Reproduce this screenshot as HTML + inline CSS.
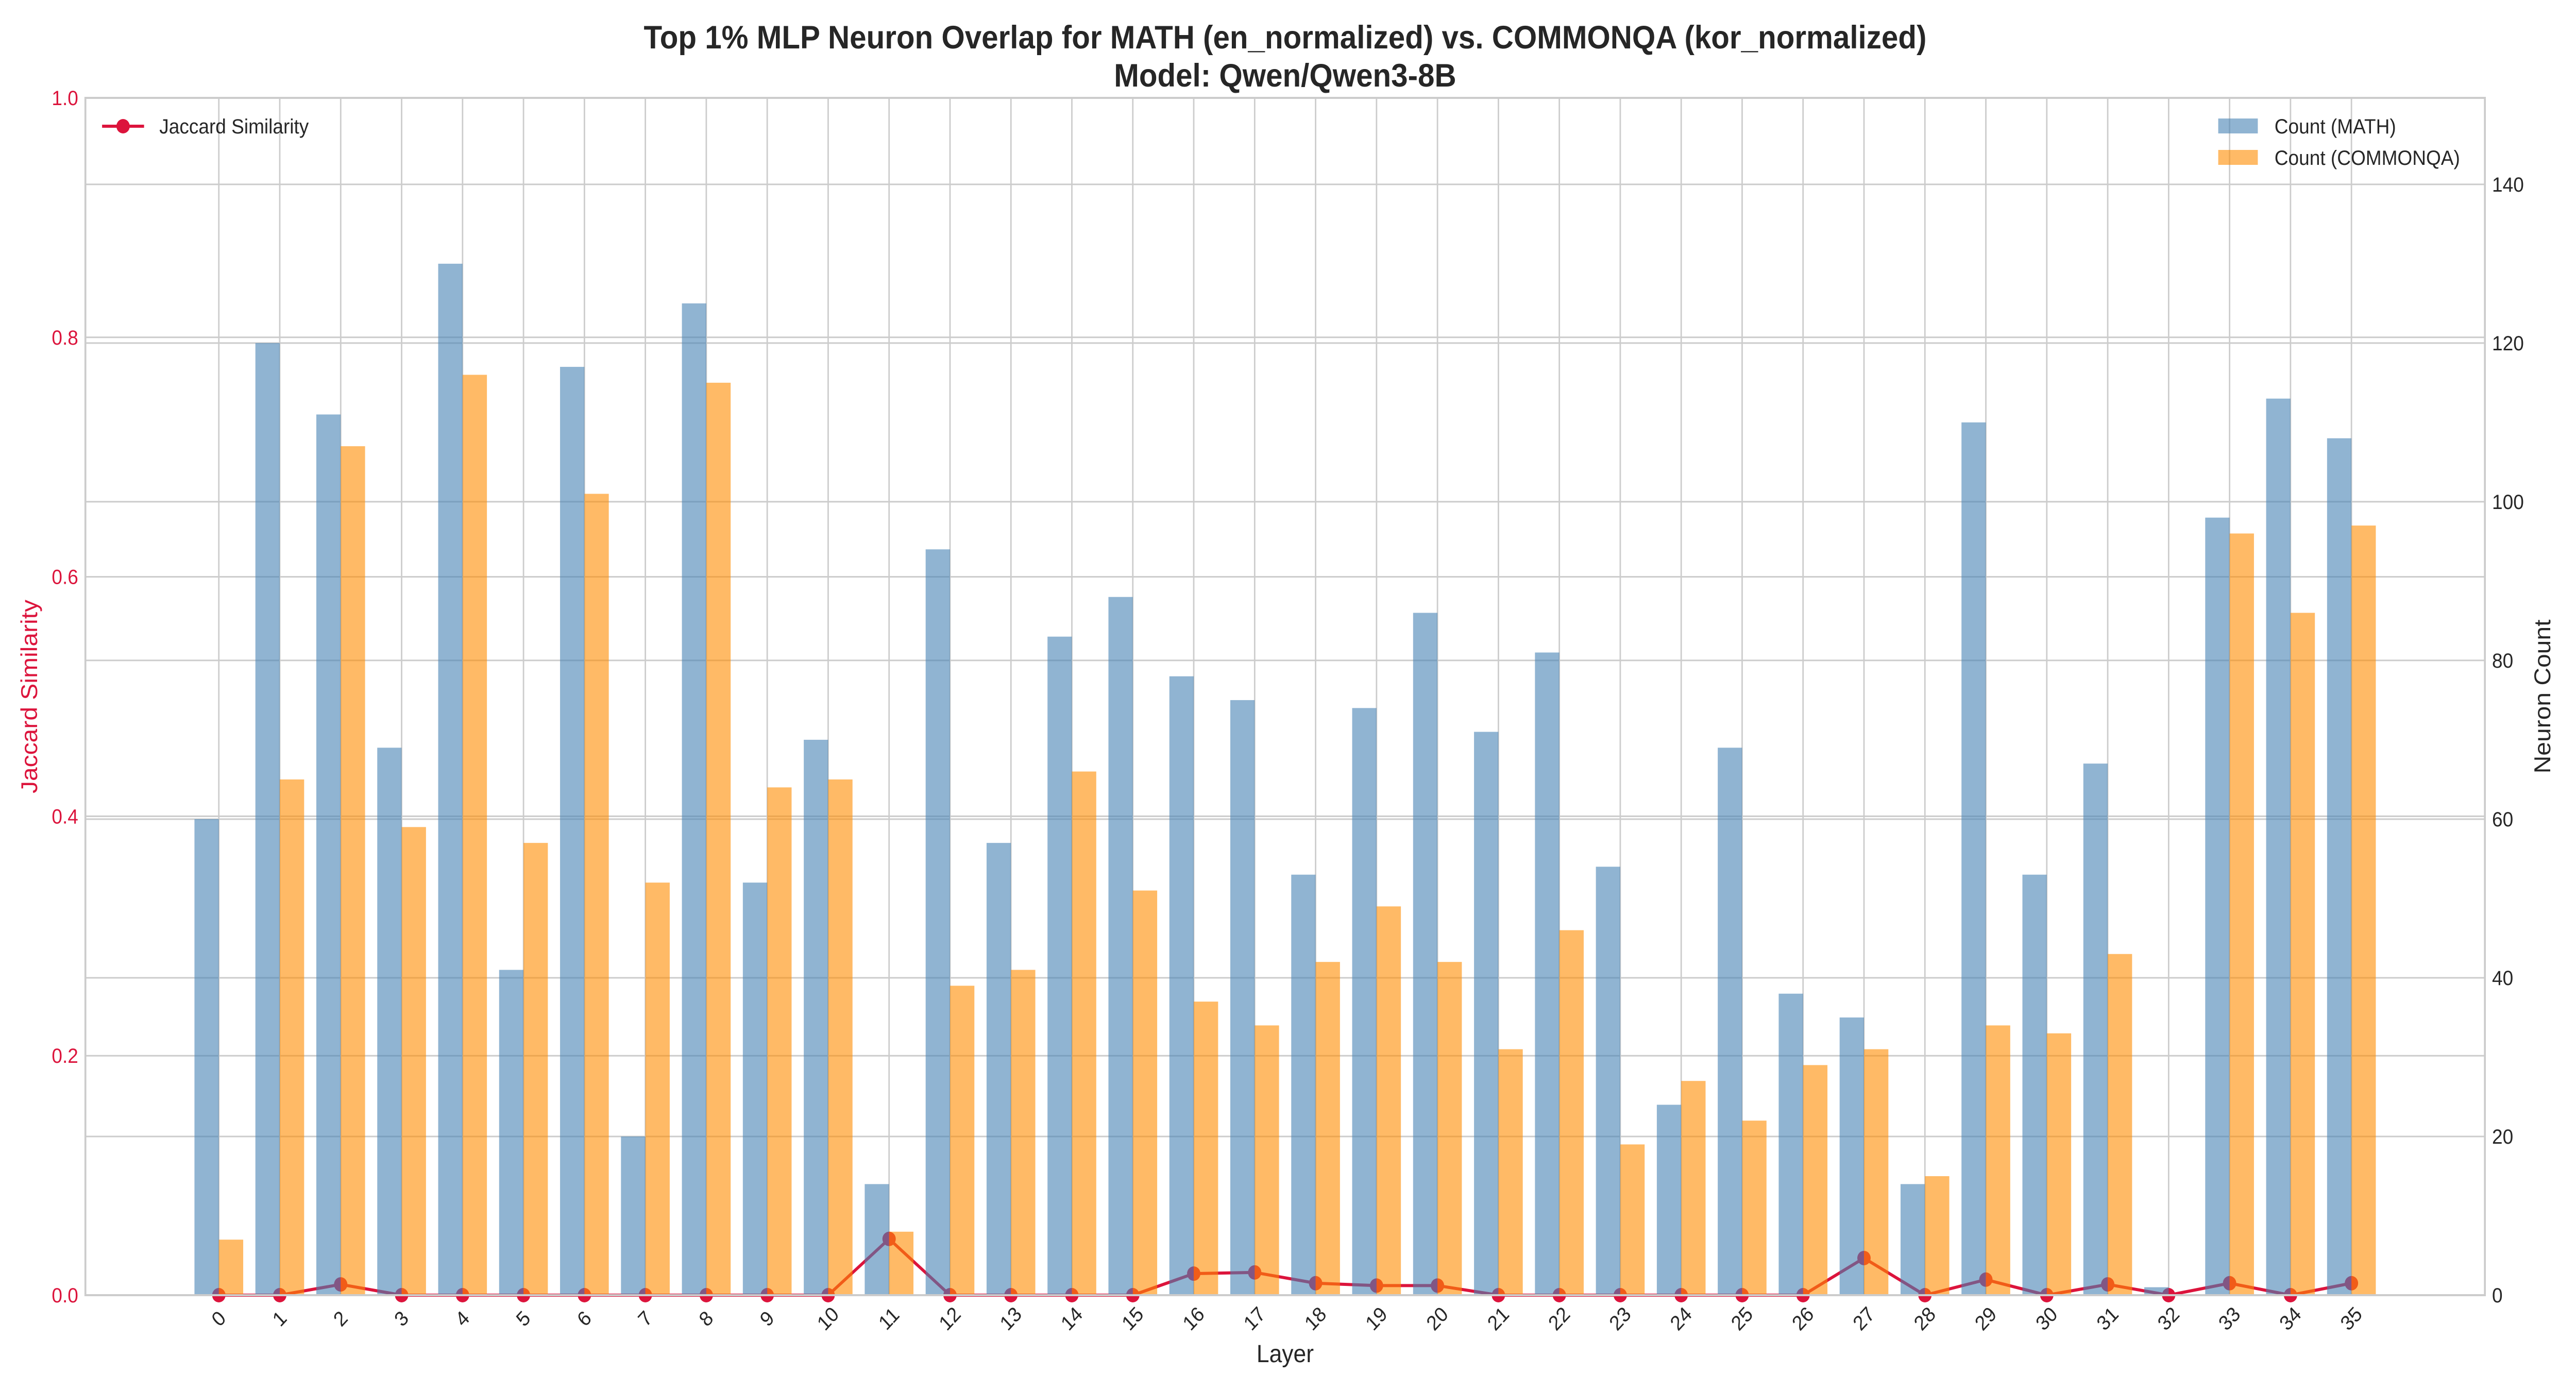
<!DOCTYPE html>
<html><head><meta charset="utf-8"><style>
html,body{margin:0;padding:0;background:#fff;width:100%;height:100%;overflow:hidden}
svg{display:block;position:fixed;left:0;top:0;width:100vw;height:100vh;font-family:"Liberation Sans",Arial,sans-serif}
</style></head><body>
<svg id="chart" viewBox="0 0 5400 2700" preserveAspectRatio="none" xmlns="http://www.w3.org/2000/svg">
<rect width="5400" height="2700" fill="#fff"/>
<g id="grid"></g>
<g id="line"></g>
<g id="bars"></g>
<g id="axes"></g>
<text x="2694" y="94" font-size="63" font-weight="bold" text-anchor="middle" fill="#262626">Top 1% MLP Neuron Overlap for MATH (en_normalized) vs. COMMONQA (kor_normalized)</text>
<text x="2694" y="168" font-size="63" font-weight="bold" text-anchor="middle" fill="#262626">Model: Qwen/Qwen3-8B</text>
<text x="2694" y="2644" font-size="48" text-anchor="middle" fill="#262626">Layer</text>
<text transform="translate(78,1352) rotate(-90)" font-size="48" text-anchor="middle" fill="#DC143C">Jaccard Similarity</text>
<text transform="translate(5346,1352) rotate(-90)" font-size="48" text-anchor="middle" fill="#262626">Neuron Count</text>
<g>
<line x1="214" y1="245" x2="302" y2="245" stroke="#DC143C" stroke-width="6"/>
<circle cx="258" cy="245" r="14" fill="#DC143C"/>
<text x="334" y="259" font-size="40" fill="#262626">Jaccard Similarity</text>
</g>
<g>
<rect x="4650" y="230" width="83" height="29" fill="#4682B4" fill-opacity="0.6"/>
<text x="4768" y="259" font-size="40" fill="#262626">Count (MATH)</text>
</g>
<g>
<rect x="4650" y="291" width="83" height="29" fill="#FF8C00" fill-opacity="0.6"/>
<text x="4768" y="320" font-size="40" fill="#262626">Count (COMMONQA)</text>
</g>
</svg>
<script>
const layers = [0,1,2,3,4,5,6,7,8,9,10,11,12,13,14,15,16,17,18,19,20,21,22,23,24,25,26,27,28,29,30,31,32,33,34,35];
const mathCounts = [60,120,111,69,130,41,117,20,125,52,70,14,94,57,83,88,78,75,53,74,86,71,81,54,24,69,38,35,14,110,53,67,1,98,113,108];
const commonqaCounts = [7,65,107,59,116,57,101,52,115,64,65,8,39,41,66,51,37,34,42,49,42,31,46,19,27,22,29,31,15,34,33,43,0,96,86,97];
const jaccard = [0,0,0.009,0,0,0,0,0,0,0,0,0.047,0,0,0,0,0.018,0.019,0.010,0.008,0.008,0,0,0,0,0,0,0.031,0,0.013,0,0.009,0,0.010,0,0.010];
const leftTicks = [0.0,0.2,0.4,0.6,0.8,1.0];
const leftTickLabels = ["0.0","0.2","0.4","0.6","0.8","1.0"];
const rightTicks = [0,20,40,60,80,100,120,140];

const L=179,R=5209,T=190,B=2514;
const XMIN=-2.19,XMAX=37.19,CMAX=150.9;
const xs=v=>L+(v-XMIN)/(XMAX-XMIN)*(R-L);
const yl=v=>B-v*(B-T);
const yr=v=>B-v/CMAX*(B-T);
const NS="http://www.w3.org/2000/svg";
function mk(tag,attrs,parent,text){const e=document.createElementNS(NS,tag);for(const k in attrs)e.setAttribute(k,attrs[k]);if(text!==undefined)e.textContent=text;parent.appendChild(e);return e;}
const grid=document.getElementById('grid'),bars=document.getElementById('bars'),lineG=document.getElementById('line'),axes=document.getElementById('axes');

layers.forEach(l=>{const e=mk('line',{x1:xs(l),x2:xs(l),y1:T,y2:B,stroke:'#cccccc','stroke-width':3},grid);

});
leftTicks.forEach(t=>{const e=mk('line',{x1:L,x2:R,y1:yl(t),y2:yl(t),stroke:'#cccccc','stroke-width':3},grid);

});
rightTicks.forEach(t=>{const e=mk('line',{x1:L,x2:R,y1:yr(t),y2:yr(t),stroke:'#cccccc','stroke-width':3},grid);

});

const pts=layers.map((l,i)=>xs(l)+','+yl(jaccard[i])).join(' ');
const pl=mk('polyline',{points:pts,fill:'none',stroke:'#DC143C','stroke-width':6,'stroke-linejoin':'round'},lineG);


layers.forEach((l,i)=>{const c=mk('circle',{cx:xs(l),cy:yl(jaccard[i]),r:14,fill:'#DC143C'},lineG);

});

layers.forEach((l,i)=>{
const x0=xs(l-0.4),x1=xs(l),x2=xs(l+0.4);
const b=mk('rect',{x:x0,y:yr(mathCounts[i]),width:x1-x0,height:B-yr(mathCounts[i]),fill:'#4682B4','fill-opacity':0.6},bars);


const o=mk('rect',{x:x1,y:yr(commonqaCounts[i]),width:x2-x1,height:B-yr(commonqaCounts[i]),fill:'#FF8C00','fill-opacity':0.6},bars);


});

const fr=mk('rect',{x:L,y:T,width:R-L,height:B-T,fill:'none',stroke:'#cccccc','stroke-width':4},axes);


leftTicks.forEach((t,i)=>{const e=mk('text',{x:164,y:yl(t)+14,'font-size':40,'text-anchor':'end',fill:'#DC143C'},axes,leftTickLabels[i]);

});
rightTicks.forEach(t=>{const e=mk('text',{x:5224,y:yr(t)+14,'font-size':40,'text-anchor':'start',fill:'#262626'},axes,String(t));

});
layers.forEach(l=>{const e=mk('text',{transform:'translate('+xs(l)+',2560) rotate(-45)','font-size':40,'text-anchor':'middle','dominant-baseline':'central',fill:'#262626'},axes,String(l));

});
</script>
</body></html>
